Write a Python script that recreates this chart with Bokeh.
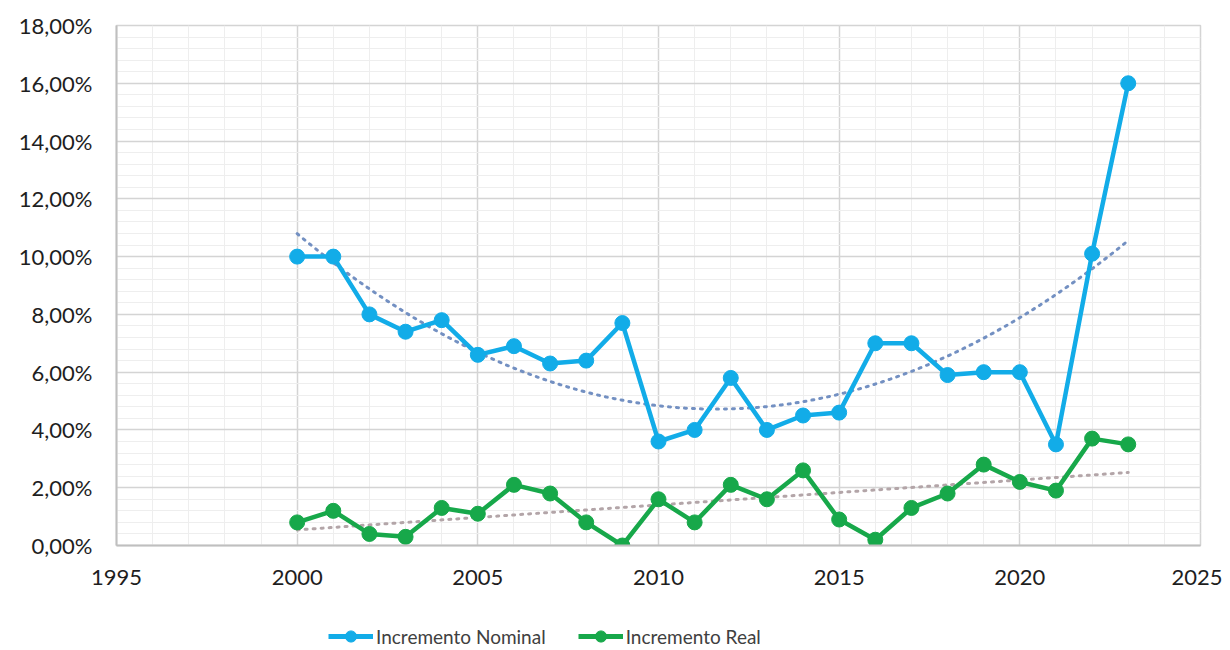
import numpy as np
from bokeh.plotting import figure
from bokeh.layouts import column
from bokeh.models import (SingleIntervalTicker, CustomJSTickFormatter, Legend, LegendItem, Range1d)
from bokeh.embed import file_html
from bokeh.resources import INLINE

years = list(range(2000, 2024))
nominal = [10.0, 10.0, 8.0, 7.4, 7.8, 6.6, 6.9, 6.3, 6.4, 7.7, 3.6, 4.0,
           5.8, 4.0, 4.5, 4.6, 7.0, 7.0, 5.9, 6.0, 6.0, 3.5, 10.1, 16.0]
real = [0.8, 1.2, 0.4, 0.3, 1.3, 1.1, 2.1, 1.8, 0.8, 0.0, 1.6, 0.8,
        2.1, 1.6, 2.6, 0.9, 0.2, 1.3, 1.8, 2.8, 2.2, 1.9, 3.7, 3.5]
y_ticks_step = 2
x_ticks_step = 5
label_nominal = "Incremento Nominal"
label_real = "Incremento Real"

FONT = "Lato"
BLUE = "#12ACE8"
GREEN = "#17A84A"

p = figure(frame_width=1084, frame_height=520, output_backend="svg", toolbar_location=None,
           x_range=Range1d(1995, 2025), y_range=Range1d(0, 18),
           min_border_left=116, min_border_right=22, min_border_top=25, min_border_bottom=68)

# Trendlines (Excel-style): polynomial order 2 for nominal, linear for real
xs = np.linspace(years[0], years[-1], 200)
xn = np.array(years) - 2000
cn = np.polyfit(xn, nominal, 2)
cr = np.polyfit(xn, real, 1)
p.line(xs, np.polyval(cn, xs - 2000), line_color="#7390C2", line_width=3,
       line_dash="2 6", line_cap="round")
p.line(xs, np.polyval(cr, xs - 2000), line_color="#B3A5A8", line_width=3,
       line_dash="2 6", line_cap="round")

p.line(years, nominal, line_color=BLUE, line_width=4.5)
p.scatter(years, nominal, size=15, fill_color=BLUE, line_color=BLUE)
p.line(years, real, line_color=GREEN, line_width=4.5)
p.scatter(years, real, size=15, fill_color=GREEN, line_color=GREEN)

p.xaxis.ticker = SingleIntervalTicker(interval=x_ticks_step, num_minor_ticks=5)
p.yaxis.ticker = SingleIntervalTicker(interval=y_ticks_step, num_minor_ticks=5)
p.yaxis.formatter = CustomJSTickFormatter(code="return tick.toFixed(2).replace('.', ',') + '%';")

for ax in (p.xaxis, p.yaxis):
    ax.major_tick_out = 0
    ax.major_tick_in = 0
    ax.minor_tick_out = 0
    ax.minor_tick_in = 0
    ax.axis_line_color = "#BFBFBF"
    ax.axis_line_width = 2
    ax.major_label_text_font = FONT
    ax.major_label_text_font_size = "22px"
    ax.major_label_text_color = "#1E1E1E"
p.xaxis.major_label_standoff = 24
p.yaxis.major_label_standoff = 24

p.xgrid.grid_line_color = "#D4D4D4"
p.ygrid.grid_line_color = "#D4D4D4"
p.xgrid.grid_line_width = 1.5
p.ygrid.grid_line_width = 1.5
p.xgrid.minor_grid_line_color = "#EEEEEE"
p.ygrid.minor_grid_line_color = "#EEEEEE"
p.outline_line_color = "#D4D4D4"
p.outline_line_width = 1.5

# Legend strip below the chart (proxy renderers kept outside the visible range)
lg = figure(width=1222, height=37, output_backend="svg", toolbar_location=None,
            x_range=Range1d(0, 1), y_range=Range1d(0, 1),
            min_border=0, x_axis_type=None, y_axis_type=None)
lg.outline_line_color = None
lg.grid.visible = False
ln = lg.line([-10, -9], [-10, -10], line_color=BLUE, line_width=5)
sn = lg.scatter([-10], [-10], size=15, fill_color=BLUE, line_color=BLUE)
lr = lg.line([-10, -9], [-10, -10], line_color=GREEN, line_width=5)
sr = lg.scatter([-10], [-10], size=15, fill_color=GREEN, line_color=GREEN)
legend = Legend(items=[LegendItem(label=label_nominal, renderers=[ln, sn]),
                       LegendItem(label=label_real, renderers=[lr, sr])],
                orientation="horizontal", location=(212, 0),
                label_text_font=FONT, label_text_font_size="19px",
                label_text_color="#404040", glyph_width=45, glyph_height=28,
                label_standoff=3, spacing=32, border_line_color=None,
                background_fill_alpha=0, margin=0, padding=4)
lg.add_layout(legend, "center")

layout = column(p, lg, spacing=0)
open("out.html", "w").write(file_html(layout, INLINE))
